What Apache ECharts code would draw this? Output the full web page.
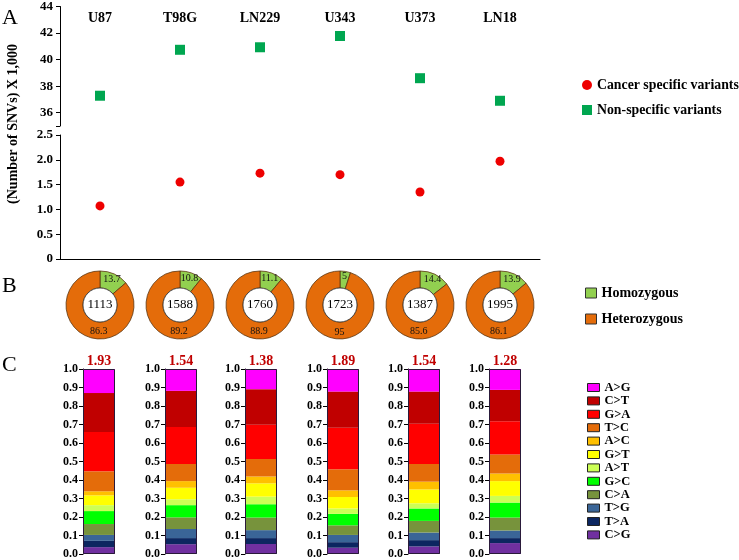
<!DOCTYPE html>
<html><head><meta charset="utf-8">
<script src="https://cdn.jsdelivr.net/npm/echarts@6/dist/echarts.min.js"></script>
<style>html,body{margin:0;padding:0;background:#fff}#c{width:739px;height:560px}</style>
</head><body><div id="c"></div>
<script>
// ---------- DATA ----------
const cellLines = ['U87', 'T98G', 'LN229', 'U343', 'U373', 'LN18'];
const cancerSpecific = [1.07, 1.55, 1.73, 1.70, 1.35, 1.97];     // x1,000 SNVs
const nonSpecific = [37.28, 40.74, 40.93, 41.78, 38.6, 36.9];    // x1,000 SNVs
const upperTicks = [36, 38, 40, 42, 44];
const lowerTicks = [0, 0.5, 1.0, 1.5, 2.0, 2.5];

const homozygousPct = [13.7, 10.8, 11.1, 5, 14.4, 13.9];
const heterozygousPct = [86.3, 89.2, 88.9, 95, 85.6, 86.1];
const totalVariants = [1113, 1588, 1760, 1723, 1387, 1995];

const ratioLabels = [1.93, 1.54, 1.38, 1.89, 1.54, 1.28];
const fracTicks = [0, 0.1, 0.2, 0.3, 0.4, 0.5, 0.6, 0.7, 0.8, 0.9, 1.0];
// stacked fractions, one array per substitution (bottom -> top order below)
const mutCG = [0.037, 0.053, 0.054, 0.034, 0.041, 0.059];
const mutTA = [0.034, 0.033, 0.032, 0.030, 0.034, 0.027];
const mutTG = [0.032, 0.049, 0.043, 0.039, 0.041, 0.041];
const mutCA = [0.059, 0.063, 0.068, 0.052, 0.063, 0.070];
const mutGC = [0.070, 0.066, 0.072, 0.062, 0.067, 0.081];
const mutAT = [0.032, 0.032, 0.041, 0.029, 0.028, 0.036];
const mutGT = [0.053, 0.062, 0.072, 0.062, 0.075, 0.080];
const mutAC = [0.022, 0.036, 0.037, 0.036, 0.042, 0.041];
const mutTC = [0.108, 0.093, 0.095, 0.114, 0.096, 0.103];
const mutGA = [0.213, 0.199, 0.185, 0.224, 0.217, 0.179];
const mutCT = [0.210, 0.196, 0.192, 0.196, 0.174, 0.170];
const mutAG = [0.130, 0.118, 0.109, 0.122, 0.122, 0.113];
const mutationTypes = ['C>G', 'T>A', 'T>G', 'C>A', 'G>C', 'A>T', 'G>T', 'A>C', 'T>C', 'G>A', 'C>T', 'A>G'];

// ---------- STYLE ----------
const SERIF = '"Liberation Serif","Times New Roman",serif';
const mutValues = { 'C>G': mutCG, 'T>A': mutTA, 'T>G': mutTG, 'C>A': mutCA, 'G>C': mutGC, 'A>T': mutAT,
  'G>T': mutGT, 'A>C': mutAC, 'T>C': mutTC, 'G>A': mutGA, 'C>T': mutCT, 'A>G': mutAG };
const mutColors = { 'C>G': '#7030A0', 'T>A': '#0C2660', 'T>G': '#3A6597', 'C>A': '#77933C', 'G>C': '#00FF00',
  'A>T': '#CCFF55', 'G>T': '#FFFF00', 'A>C': '#FFC000', 'T>C': '#E46C0A', 'G>A': '#FF0000',
  'C>T': '#C00000', 'A>G': '#FF00FF' };
const GREEN = '#92D050', ORANGE = '#E46C0A';

const barLefts = [83, 165, 245, 327, 408, 489];
const donutX = [100, 180, 260, 340, 420, 500];
const DONUT_MID_R = 25.5, HET_LABEL_DROP = 24;

const grid = [
  { left: 60, top: 5, width: 480, height: 121 },
  { left: 60, top: 135, width: 480, height: 124 }
];
const xAxis = [
  { gridIndex: 0, type: 'category', data: cellLines, position: 'top', boundaryGap: true,
    axisLine: { show: false }, axisTick: { show: false },
    axisLabel: { inside: true, margin: 5, fontFamily: SERIF, fontWeight: 'bold', fontSize: 14, color: '#000' } },
  { gridIndex: 1, type: 'category', data: cellLines, boundaryGap: true,
    axisLine: { lineStyle: { color: '#000', width: 1 } },
    axisTick: { alignWithLabel: true, length: 5, lineStyle: { color: '#000' } },
    axisLabel: { show: false } }
];
const yAxis = [
  { gridIndex: 0, type: 'value', min: 35, max: 44, splitLine: { show: false },
    axisLine: { show: true, lineStyle: { color: '#000' } },
    axisTick: { show: true, length: 4, customValues: [35].concat(upperTicks), lineStyle: { color: '#000' } },
    axisLabel: { customValues: upperTicks, fontFamily: SERIF, fontWeight: 'bold', fontSize: 13, color: '#000', margin: 7 } },
  { gridIndex: 1, type: 'value', min: 0, max: 2.5, interval: 0.5, splitLine: { show: false },
    axisLine: { show: true, lineStyle: { color: '#000' } },
    axisTick: { show: true, length: 4, lineStyle: { color: '#000' } },
    axisLabel: { fontFamily: SERIF, fontWeight: 'bold', fontSize: 13, color: '#000', margin: 7,
      formatter: v => v === 0 ? '0' : v.toFixed(1) } }
];
const series = [
  { type: 'scatter', name: 'Cancer specific variants', xAxisIndex: 1, yAxisIndex: 1, data: cancerSpecific,
    symbol: 'circle', symbolSize: 9, itemStyle: { color: '#EE0000', opacity: 1 }, silent: true },
  { type: 'scatter', name: 'Non-specific variants', xAxisIndex: 0, yAxisIndex: 0, data: nonSpecific,
    symbol: 'rect', symbolSize: 10, itemStyle: { color: '#00A650', opacity: 1 }, silent: true }
];

// Panel B donuts
cellLines.forEach((c, i) => {
  // heterozygous label is shown at the bottom of the ring (as in the reference)
  const theta = Math.PI + Math.PI * homozygousPct[i] / 100;
  const hetOffset = [-DONUT_MID_R * Math.sin(theta), HET_LABEL_DROP + DONUT_MID_R * Math.cos(theta)];
  series.push({
    type: 'pie', name: 'zyg' + i, center: [donutX[i], 305], radius: [17, 34], startAngle: 90, silent: true,
    itemStyle: { borderColor: '#5a3510', borderWidth: 0.8 },
    label: { show: true, position: 'inside', formatter: '{c}', fontFamily: SERIF, fontSize: 10, color: '#111' },
    labelLine: { show: false },
    data: [
      { name: 'Homozygous', value: homozygousPct[i], itemStyle: { color: GREEN } },
      { name: 'Heterozygous', value: heterozygousPct[i], itemStyle: { color: ORANGE }, label: { offset: hetOffset } }
    ]
  });
  series.push({
    type: 'pie', name: 'tot' + i, center: [donutX[i], 305], radius: [0, 17], silent: true,
    itemStyle: { color: '#fff', borderColor: '#333', borderWidth: 0.8 },
    label: { show: true, position: 'center', formatter: '{c}', fontFamily: SERIF, fontSize: 13, color: '#000' },
    labelLine: { show: false },
    data: [{ name: 'Total', value: totalVariants[i] }]
  });
});

// Panel C stacked bars
cellLines.forEach((c, g) => {
  grid.push({ left: barLefts[g], top: 369, width: 32, height: 186 });
  const gi = grid.length - 1;
  xAxis.push({ gridIndex: gi, type: 'category', data: [c], show: false });
  yAxis.push({ gridIndex: gi, type: 'value', min: 0, max: 1, interval: 0.1, splitLine: { show: false },
    axisLine: { show: true, lineStyle: { color: '#000' } },
    axisTick: { show: true, length: 4, lineStyle: { color: '#000' } },
    axisLabel: { fontFamily: SERIF, fontWeight: 'bold', fontSize: 12, color: '#000', margin: 5,
      formatter: v => v.toFixed(1) } });
  mutationTypes.forEach((m, k) => {
    const s = { type: 'bar', name: m, xAxisIndex: gi, yAxisIndex: gi, stack: 'st' + g, barWidth: '100%',
      data: [mutValues[m][g]], itemStyle: { color: mutColors[m] }, silent: true };
    if (k === mutationTypes.length - 1) {
      s.label = { show: true, position: 'top', distance: 1, formatter: () => ratioLabels[g].toFixed(2),
        fontFamily: SERIF, fontWeight: 'bold', fontSize: 14, color: '#C00000' };
    }
    series.push(s);
  });
  series.push({ type: 'bar', name: 'outline' + g, xAxisIndex: gi, yAxisIndex: gi, barWidth: '100%', barGap: '-100%',
    data: [1], itemStyle: { color: 'rgba(0,0,0,0)', borderColor: '#2a1a3a', borderWidth: 1 }, z: 5, silent: true });
});

const legendText = { fontFamily: SERIF, fontWeight: 'bold', color: '#000' };
const option = {
  animation: false,
  backgroundColor: '#fff',
  grid, xAxis, yAxis, series,
  legend: [
    { data: ['Cancer specific variants', 'Non-specific variants'], orient: 'vertical', left: 577, top: 73,
      itemWidth: 10, itemHeight: 10, itemGap: 11, selectedMode: false,
      textStyle: Object.assign({ fontSize: 13.8 }, legendText) },
    { data: ['Homozygous', 'Heterozygous'], orient: 'vertical', left: 580, top: 281, icon: 'rect',
      itemWidth: 11, itemHeight: 10, itemGap: 12, selectedMode: false,
      itemStyle: { borderColor: '#333', borderWidth: 1 },
      textStyle: Object.assign({ fontSize: 14 }, legendText) },
    { data: mutationTypes.slice().reverse(), orient: 'vertical', left: 582, top: 376, icon: 'rect',
      itemWidth: 12, itemHeight: 8, itemGap: 0.4, selectedMode: false,
      itemStyle: { borderColor: '#222', borderWidth: 1 },
      textStyle: Object.assign({ fontSize: 12.5, lineHeight: 13 }, legendText) }
  ],
  graphic: [
    { type: 'text', x: 13, y: 124, rotation: Math.PI / 2,
      style: { text: '(Number of SNVs) X 1,000', font: 'bold 14px ' + SERIF, fill: '#000', align: 'center', verticalAlign: 'middle' } },
    { type: 'text', x: 2, y: 7, style: { text: 'A', font: '22px ' + SERIF, fill: '#000' } },
    { type: 'text', x: 2, y: 275, style: { text: 'B', font: '22px ' + SERIF, fill: '#000' } },
    { type: 'text', x: 2, y: 354, style: { text: 'C', font: '22px ' + SERIF, fill: '#000' } }
  ]
};
const chart = echarts.init(document.getElementById('c'), null, { renderer: 'canvas' });
chart.setOption(option);
</script></body></html>
